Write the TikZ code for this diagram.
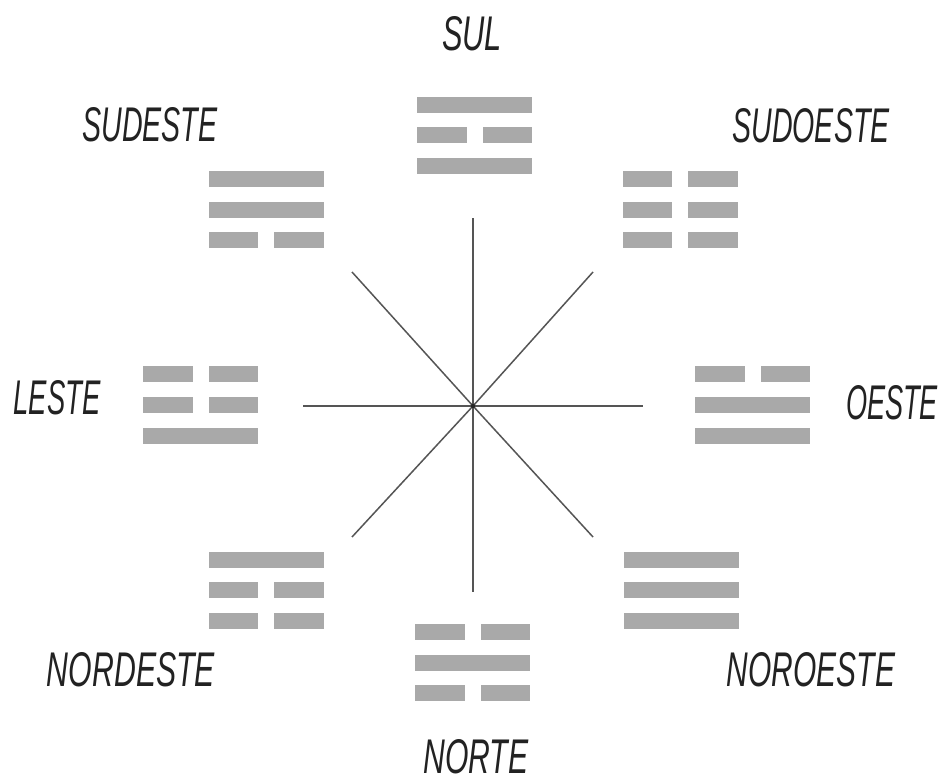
\documentclass[tikz,border=0pt]{standalone}
\usepackage{fontspec}
\setmainfont{Liberation Sans}
\definecolor{barcol}{HTML}{A9A9A9}
\definecolor{lncol}{HTML}{555555}
\definecolor{txtcol}{HTML}{222222}
\tikzset{
  bargrey/.style={fill=barcol},
  ray/.style={draw=lncol, line width=1.5pt},
  lab/.style={inner sep=0pt, text=txtcol, anchor=center}
}
% one bar of a trigram: centre x, centre y, 1 = solid / 0 = broken
\newcommand\tgbar[3]{%
  \ifnum#3=1
    \fill[bargrey] (#1-57.5,#2-8) rectangle (#1+57.5,#2+8);
  \else
    \fill[bargrey] (#1-57.5,#2-8) rectangle (#1-8,#2+8);
    \fill[bargrey] (#1+8,#2-8) rectangle (#1+57.5,#2+8);
  \fi}
% trigram: name, cx, cy, top, middle, bottom
\newcommand\trigram[6]{%
  \node[inner sep=0pt, minimum width=115pt, minimum height=77pt] (#1) at (#2,#3) {};
  \tgbar{#2}{#3-30.5}{#4}
  \tgbar{#2}{#3}{#5}
  \tgbar{#2}{#3+30.5}{#6}}
\newcommand\labtext[2]{\resizebox{#2}{34pt}{\itshape #1}}
\begin{document}
\begin{tikzpicture}[x=1pt, y=-1pt]
  \useasboundingbox (0,0) rectangle (945,783);
  \fill[white] (0,0) rectangle (945,783);

  % trigrams
  \trigram{tsul}{474.5}{135.5}{1}{0}{1}
  \trigram{tsudeste}{266}{210}{1}{1}{0}
  \trigram{tsudoeste}{680}{210}{0}{0}{0}
  \trigram{tleste}{200.5}{405}{0}{0}{1}
  \trigram{toeste}{752.5}{405}{0}{1}{1}
  \trigram{tnordeste}{266}{590}{1}{0}{0}
  \trigram{tnoroeste}{681.5}{590}{1}{1}{1}
  \trigram{tnorte}{472.5}{662.5}{0}{1}{0}

  % rays
  \coordinate (c) at (473,406);
  \coordinate (rn) at (473,218);
  \coordinate (rs) at (473,592);
  \coordinate (rw) at (303,406);
  \coordinate (re) at (643,406);
  \coordinate (rnw) at (352,272);
  \coordinate (rne) at (593,272);
  \coordinate (rsw) at (352,537);
  \coordinate (rse) at (593,537);
  \foreach \p in {rn,rs,rw,re,rnw,rne,rsw,rse} \draw[ray] (c) -- (\p);
  \fill[black!85] (c) circle (2.2);

  % labels
  \node[lab] (lsul) at (472,34) {\labtext{SUL}{60pt}};
  \node[lab] (lsudeste) at (150,125) {\labtext{SUDESTE}{135pt}};
  \node[lab] (lsudoeste) at (811,126) {\labtext{SUDOESTE}{157pt}};
  \node[lab] (lleste) at (57,398) {\labtext{LESTE}{87pt}};
  \node[lab] (loeste) at (892,403) {\labtext{OESTE}{92pt}};
  \node[lab] (lnordeste) at (131,670) {\labtext{NORDESTE}{168pt}};
  \node[lab] (lnoroeste) at (811,670) {\labtext{NOROESTE}{168pt}};
  \node[lab] (lnorte) at (476,757) {\labtext{NORTE}{105pt}};
\end{tikzpicture}
\end{document}
